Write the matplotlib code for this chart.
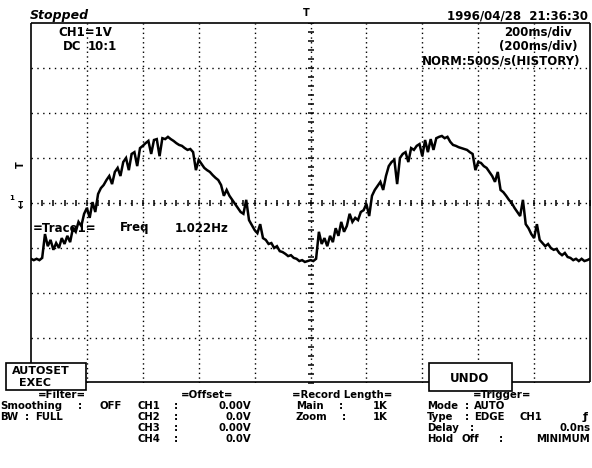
import numpy as np
import matplotlib
matplotlib.use("Agg")
import matplotlib.pyplot as plt
from matplotlib.patches import Rectangle

ms_per_div = 200
volts_per_div = 1
h_divs = 10
v_divs = 8
sample_step_ms = 10
time_ms = np.arange(0, ms_per_div * h_divs + 1, sample_step_ms)
ch1_volts = [
    -1.24, -1.27, -1.24, -1.27, -1.22, -0.69, -0.96, -0.82, -1.04, -0.89,
    -1.00, -0.78, -0.91, -0.73, -0.87, -0.56, -0.64, -0.42, -0.51, -0.24,
    -0.11, -0.33, 0.02, -0.20, 0.20, 0.33, 0.40, 0.51, 0.60, 0.42,
    0.69, 0.78, 0.60, 0.91, 1.00, 0.73, 1.09, 1.13, 0.82, 1.22,
    1.27, 1.33, 1.38, 1.09, 1.40, 1.42, 1.04, 1.44, 1.42, 1.47,
    1.42, 1.38, 1.33, 1.29, 1.27, 1.22, 1.18, 1.20, 1.13, 0.73,
    0.96, 0.87, 0.78, 0.73, 0.69, 0.62, 0.56, 0.51, 0.40, 0.16,
    0.29, 0.16, 0.07, -0.02, -0.11, -0.20, -0.24, 0.07, -0.38, -0.49,
    -0.60, -0.67, -0.47, -0.78, -0.82, -0.91, -0.89, -1.00, -0.96, -1.07,
    -1.09, -1.13, -1.18, -1.16, -1.22, -1.24, -1.29, -1.27, -1.31, -1.29,
    -1.27, -1.29, -1.24, -0.64, -0.91, -0.78, -0.96, -0.73, -0.87, -0.56,
    -0.73, -0.42, -0.64, -0.51, -0.24, -0.42, -0.33, -0.38, -0.20, -0.16,
    -0.02, -0.29, 0.16, 0.29, 0.38, 0.47, 0.29, 0.60, 0.82, 0.91,
    0.96, 0.42, 1.00, 1.09, 1.13, 0.91, 1.22, 1.18, 1.27, 1.31,
    1.04, 1.40, 1.13, 1.42, 1.18, 1.44, 1.47, 1.49, 1.44, 1.47,
    1.36, 1.29, 1.27, 1.24, 1.22, 1.20, 1.18, 1.13, 1.09, 0.73,
    0.91, 0.89, 0.82, 0.78, 0.69, 0.60, 0.47, 0.69, 0.29, 0.24,
    0.16, 0.07, 0.00, -0.11, -0.20, -0.29, 0.07, -0.47, -0.56, -0.69,
    -0.78, -0.47, -0.82, -0.89, -0.96, -0.91, -1.00, -1.04, -1.02, -1.11,
    -1.16, -1.11, -1.20, -1.22, -1.27, -1.24, -1.29, -1.24, -1.29, -1.27,
    -1.24,
]

header_left = ["Stopped", "CH1=1V", "DC", "10:1"]
header_right = ["1996/04/28  21:36:30", "200ms/div", "(200ms/div)", "NORM:500S/s(HISTORY)"]
trace_label = ["=Trace1=", "Freq", "1.022Hz"]

# ---------------- figure ----------------
W, H = 592, 468
fig = plt.figure(figsize=(W / 100, H / 100), dpi=100)
fig.patch.set_facecolor("white")
L, R, T, B = 31, 590, 23, 383
ax = fig.add_axes([L / W, 1 - B / H, (R - L) / W, (B - T) / H])
xmax = ms_per_div * h_divs
ymax = volts_per_div * v_divs / 2
ax.set_xlim(0, xmax)
ax.set_ylim(-ymax, ymax)
ax.axis("off")

dot_h = (0, (1, 3.2))
dot_v = (0, (1, 2.4))
for k in range(1, h_divs):
    ax.axvline(k * ms_per_div, color="black", lw=1.0, ls=dot_v, zorder=1)
for k in range(1, v_divs):
    ax.axhline(-ymax + k * volts_per_div, color="black", lw=1.0, ls=dot_h, zorder=1)

# centre-line minor ticks (1/5 div)
cx = np.arange(0, xmax + 1, ms_per_div / 5)
ax.plot(cx, np.zeros_like(cx), ls="none", marker="|", ms=4, mew=1.1, color="black", zorder=2)
cy = np.arange(-ymax, ymax + 0.001, volts_per_div / 5)
ax.plot(np.full_like(cy, xmax / 2), cy, ls="none", marker="_", ms=5, mew=1.1, color="black", zorder=2)

# waveform
ax.plot(time_ms, ch1_volts, color="black", lw=1.8, zorder=3, solid_joinstyle="miter")

# ---------------- overlay (frame, labels) ----------------
ov = fig.add_axes([0, 0, 1, 1])
ov.set_xlim(0, W)
ov.set_ylim(H, 0)
ov.axis("off")
ov.patch.set_alpha(0)

lk = dict(color="black", lw=1.2, solid_capstyle="butt")
ov.plot([L, L], [T, 363], **lk)
ov.plot([L, R], [T, T], **lk)
ov.plot([R, R], [T, 382], **lk)
ov.plot([86, 429], [382, 382], **lk)
ov.plot([512, R], [382, 382], **lk)

ov.add_patch(Rectangle((6, 363), 80, 27, facecolor="white", edgecolor="black", lw=1.2, zorder=5))
ov.add_patch(Rectangle((429, 363), 83, 28, facecolor="white", edgecolor="black", lw=1.2, zorder=5))

FS = 8.5


def txt(x, y, s, ha="left", size=FS, **kw):
    ov.text(x, y, s, ha=ha, va="center", fontsize=size, fontweight="bold",
            family="DejaVu Sans", color="black", zorder=6, **kw)


# top
txt(30, 16, header_left[0], style="italic", size=9)
txt(58, 32, header_left[1])
txt(63, 46, header_left[2])
txt(88, 46, header_left[3])
txt(588, 16, header_right[0], ha="right")
txt(572, 32, header_right[1], ha="right")
txt(578, 46, header_right[2], ha="right")
txt(580, 61, header_right[3], ha="right")
txt(306, 13, "T", ha="center", size=7)

# side markers
txt(21, 165, "T", ha="center", size=7, rotation=90)
txt(12, 198, "1", ha="center", size=5)
txt(21, 205, "\u21a7", ha="center", size=8)

# trace readout
txt(33, 228, trace_label[0])
txt(120, 228, trace_label[1])
txt(175, 228, trace_label[2])

# soft keys
txt(12, 370.5, "AUTOSET", size=8)
txt(19, 383, "EXEC", size=8)
txt(470, 378, "UNDO", ha="center")

# bottom panel
BS = 7.3
rows = [395, 406, 417, 428, 439]
txt(62, rows[0], "=Filter=", ha="center", size=BS)
txt(207, rows[0], "=Offset=", ha="center", size=BS)
txt(342, rows[0], "=Record Length=", ha="center", size=BS)
txt(502, rows[0], "=Trigger=", ha="center", size=BS)

txt(0, rows[1], "Smoothing", size=BS); txt(78, rows[1], ":", size=BS); txt(99, rows[1], "OFF", size=BS)
txt(0, rows[2], "BW", size=BS); txt(25, rows[2], ":", size=BS); txt(35, rows[2], "FULL", size=BS)

for yy, ch, off in [(rows[1], "CH1", "0.00V"), (rows[2], "CH2", "0.0V"),
                    (rows[3], "CH3", "0.00V"), (rows[4], "CH4", "0.0V")]:
    txt(138, yy, ch, size=BS); txt(174, yy, ":", size=BS); txt(251, yy, off, ha="right", size=BS)

txt(296, rows[1], "Main", size=BS); txt(339, rows[1], ":", size=BS); txt(388, rows[1], "1K", ha="right", size=BS)
txt(296, rows[2], "Zoom", size=BS); txt(342, rows[2], ":", size=BS); txt(388, rows[2], "1K", ha="right", size=BS)

txt(427, rows[1], "Mode", size=BS); txt(465, rows[1], ":", size=BS); txt(474, rows[1], "AUTO", size=BS)
txt(427, rows[2], "Type", size=BS); txt(465, rows[2], ":", size=BS); txt(474, rows[2], "EDGE", size=BS)
txt(520, rows[2], "CH1", size=BS)
txt(585, rows[2], "\u0192", ha="center", size=8)
txt(427, rows[3], "Delay", size=BS); txt(470, rows[3], ":", size=BS); txt(591, rows[3], "0.0ns", ha="right", size=BS)
txt(427, rows[4], "Hold", size=BS); txt(461, rows[4], "Off", size=BS); txt(499, rows[4], ":", size=BS)
txt(590, rows[4], "MINIMUM", ha="right", size=BS)

fig.savefig("out.png", dpi=100, facecolor="white")
